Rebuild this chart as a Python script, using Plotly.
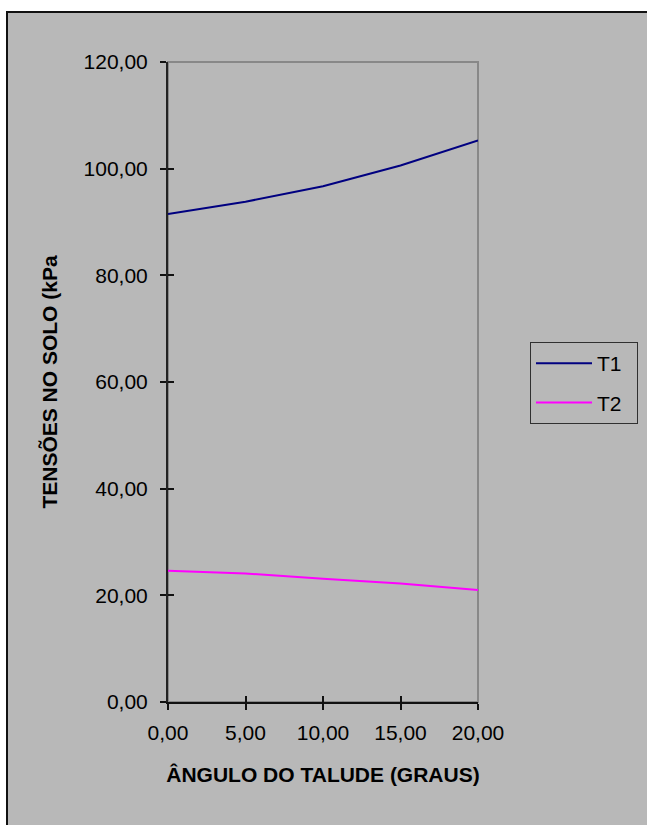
import plotly.graph_objects as go

# Slope angle (degrees) and soil stresses (kPa)
angulo = [0, 5, 10, 15, 20]
t1 = [91.5, 93.8, 96.7, 100.6, 105.3]
t2 = [24.6, 24.1, 23.1, 22.2, 21.0]
serie_nomes = ["T1", "T2"]
serie_cores = ["#000080", "#ff00ff"]

x_ticks = [0, 5, 10, 15, 20]
y_ticks = [0, 20, 40, 60, 80, 100, 120]

W, H = 647, 825
ML, MR, MT, MB = 168, 169, 62, 123
pw, ph = W - ML - MR, H - MT - MB

FONT = "Liberation Sans, Arial, sans-serif"
FS = 21
LEGEND_PAD = "\u00a0\u2009"  # a little room right of the legend labels

fig = go.Figure()
for nome, ys, cor in zip(serie_nomes, [t1, t2], serie_cores):
    fig.add_trace(go.Scatter(
        x=angulo, y=ys, mode="lines", name=nome + LEGEND_PAD,
        line=dict(color=cor, width=2),
        legendgroup=nome,
    ))

# helper trace that carries the inner tick axes
fig.add_trace(go.Scatter(
    x=angulo, y=t1, xaxis="x2", yaxis="y2", mode="lines",
    line=dict(width=0, color="rgba(0,0,0,0)"), showlegend=False, hoverinfo="skip",
))

def px_x(p):
    return (p - ML) / pw

def px_y(p):
    return (H - MB - p) / ph

fig.update_layout(
    width=W, height=H,
    margin=dict(l=ML, r=MR, t=MT, b=MB, autoexpand=False),
    paper_bgcolor="white",
    plot_bgcolor="#c0c0c0",
    separators=",.",
    font=dict(family=FONT, size=FS, color="black"),
    showlegend=True,
    legend=dict(
        x=px_x(530), y=px_y(342), xanchor="left", yanchor="top",
        bgcolor="rgba(0,0,0,0)", bordercolor="#303030", borderwidth=1,
        font=dict(family=FONT, size=FS, color="black"),
        itemwidth=56, tracegroupgap=9,
    ),
    xaxis=dict(
        range=[0, 20], tickvals=x_ticks, tickformat=".2f",
        showgrid=False, zeroline=False,
        showline=True, linecolor="#111111", linewidth=1.5,
        ticks="outside", ticklen=6, tickcolor="#111111", tickwidth=1.5,
        ticklabelstandoff=5,
        title=dict(text="<b>ÂNGULO DO TALUDE (GRAUS)</b>", standoff=24,
                   font=dict(family=FONT, size=FS)),
    ),
    yaxis=dict(
        range=[0, 120], tickvals=y_ticks, tickformat=".2f",
        showgrid=False, zeroline=False,
        showline=True, linecolor="#222222", linewidth=2,
        ticks="outside", ticklen=6, tickcolor="#111111", tickwidth=1.5,
        ticklabelstandoff=8,
        title=dict(text="<b>TENSÕES NO SOLO (kPa</b>", standoff=20,
                   font=dict(family=FONT, size=FS)),
    ),
    xaxis2=dict(
        overlaying="x", anchor="y", side="bottom", matches="x",
        range=[0, 20], tickvals=x_ticks, showticklabels=False,
        showgrid=False, zeroline=False, showline=False,
        ticks="inside", ticklen=6, tickcolor="#111111", tickwidth=1.5,
    ),
    yaxis2=dict(
        overlaying="y", anchor="x", side="left", matches="y",
        range=[0, 120], tickvals=y_ticks, showticklabels=False,
        showgrid=False, zeroline=False, showline=False,
        ticks="inside", ticklen=6, tickcolor="#111111", tickwidth=1.5,
    ),
    shapes=[
        # chart area frame
        dict(type="rect", xref="paper", yref="paper", layer="below",
             x0=px_x(7), x1=px_x(W + 20), y0=px_y(H + 20), y1=px_y(12),
             fillcolor="#b8b8b8", line=dict(color="#111111", width=2)),
        # plot area border (top / right visible in grey)
        dict(type="rect", xref="x domain", yref="y domain", layer="below",
             x0=0, x1=1, y0=0, y1=1,
             line=dict(color="#888888", width=2)),
    ],
)

fig.write_html("out.html")
